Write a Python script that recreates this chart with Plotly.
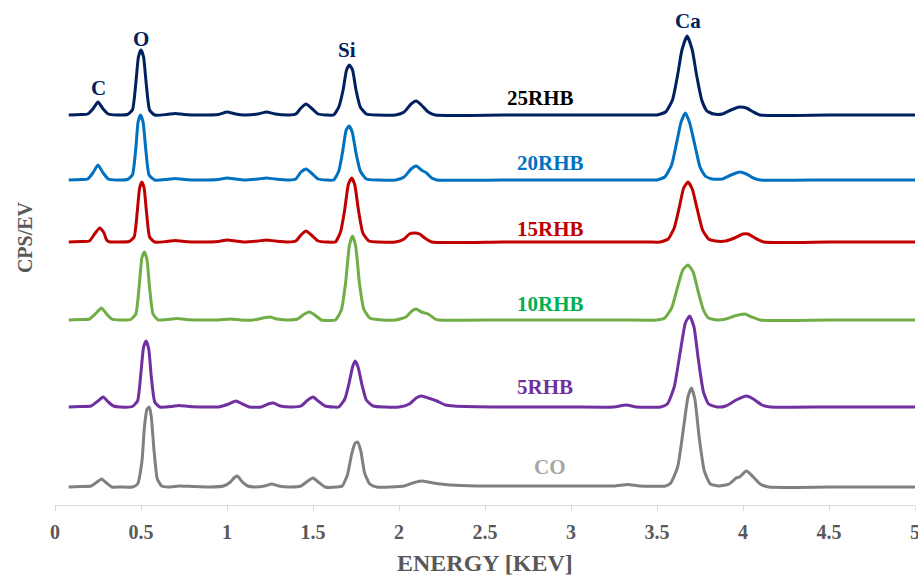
import plotly.graph_objects as go

# ---- data: EDS spectra, (energy keV, intensity above own baseline) ----
names = ["25RHB", "20RHB", "15RHB", "10RHB", "5RHB", "CO"]
offsets = [390, 325, 263, 185, 98, 18]

pts_25 = [(0.08,0),(0.15,0.5),(0.19,1),(0.22,6),(0.25,13),(0.28,6),(0.31,1),(0.36,0),(0.42,0.5),(0.45,5),(0.47,32),(0.485,58),(0.50,65),(0.515,58),(0.53,32),(0.55,5),(0.58,0),(0.65,0.5),(0.70,1.5),(0.75,0.5),(0.85,0),(0.95,0.5),(1.0,3),(1.05,1),(1.1,0),(1.18,1),(1.23,3),(1.28,1),(1.36,0),(1.40,1),(1.43,7),(1.46,11),(1.49,7),(1.53,1),(1.58,0),(1.62,0),(1.65,8),(1.675,25),(1.695,45),(1.712,50),(1.73,45),(1.75,25),(1.775,8),(1.81,1),(1.88,0),(1.98,0),(2.03,3),(2.07,11),(2.10,14),(2.13,10),(2.17,3),(2.21,0),(2.6,0),(3.0,0),(3.45,0),(3.50,0),(3.55,3),(3.59,15),(3.62,40),(3.645,65),(3.675,79),(3.705,65),(3.73,40),(3.76,15),(3.79,4),(3.83,1),(3.88,1),(3.93,5),(3.98,8),(4.02,7),(4.06,3),(4.10,0),(4.5,0),(5.0,0)]

pts_20 = [(0.08,0),(0.15,0.5),(0.19,1),(0.22,7),(0.25,15),(0.28,7),(0.31,1),(0.36,0),(0.42,0.5),(0.45,5),(0.47,32),(0.483,58),(0.497,65),(0.512,58),(0.527,32),(0.547,5),(0.58,0),(0.65,0.5),(0.70,1.5),(0.75,0.5),(0.85,0),(0.95,0.5),(1.0,2),(1.05,1),(1.1,0),(1.18,1),(1.23,2),(1.28,1),(1.36,0),(1.40,1),(1.43,8),(1.46,11),(1.49,7),(1.53,1),(1.58,0),(1.62,0),(1.65,9),(1.672,28),(1.693,50),(1.71,54),(1.728,48),(1.75,27),(1.775,9),(1.81,1),(1.88,0),(1.98,0),(2.03,3),(2.07,11),(2.10,14),(2.13,10),(2.16,7),(2.19,2),(2.22,0),(2.6,0),(3.0,0),(3.45,0),(3.50,0),(3.545,3),(3.585,15),(3.615,38),(3.64,58),(3.665,67),(3.69,57),(3.72,35),(3.75,13),(3.78,4),(3.82,1),(3.88,1),(3.93,5),(3.98,8),(4.02,6),(4.06,2),(4.10,0),(4.5,0),(5.0,0)]

pts_15 = [(0.08,0),(0.15,0.5),(0.20,1),(0.23,8),(0.26,14),(0.285,9),(0.30,2),(0.32,0),(0.36,0),(0.43,0.5),(0.46,5),(0.478,30),(0.492,54),(0.505,60),(0.518,54),(0.532,30),(0.55,5),(0.58,0),(0.65,0.5),(0.70,1.5),(0.75,0.5),(0.85,0),(0.95,0.5),(1.0,2),(1.05,1),(1.1,0),(1.18,1),(1.23,2),(1.28,1),(1.36,0),(1.40,1),(1.43,7),(1.46,11),(1.49,7),(1.53,1),(1.58,0),(1.63,0),(1.66,10),(1.685,33),(1.706,58),(1.725,64),(1.743,57),(1.765,31),(1.79,9),(1.825,1),(1.88,0),(1.98,0),(2.03,3),(2.06,8),(2.09,9),(2.12,8),(2.15,4),(2.19,0),(2.6,0),(3.0,0),(3.45,0),(3.52,0),(3.565,3),(3.60,14),(3.63,35),(3.655,54),(3.68,60),(3.705,53),(3.735,32),(3.765,12),(3.80,3),(3.84,1),(3.90,1),(3.95,4),(4.00,8),(4.03,8),(4.07,4),(4.12,0),(4.5,0),(5.0,0)]

pts_10 = [(0.08,0),(0.15,0.5),(0.20,1),(0.24,7),(0.27,12),(0.30,6),(0.33,1),(0.38,0),(0.44,0.5),(0.47,6),(0.49,35),(0.505,62),(0.52,68),(0.535,60),(0.55,32),(0.57,6),(0.60,0),(0.65,0.5),(0.71,1.5),(0.76,0.5),(0.85,0),(0.95,0),(1.02,1),(1.08,0),(1.15,0),(1.21,2),(1.25,3),(1.29,1),(1.36,0),(1.41,1),(1.45,6),(1.48,8),(1.51,5),(1.55,0),(1.63,0),(1.665,10),(1.69,38),(1.712,75),(1.73,84),(1.748,74),(1.77,37),(1.795,11),(1.83,2),(1.90,0),(1.98,0),(2.04,3),(2.075,9),(2.10,11),(2.13,8),(2.17,6),(2.21,1),(2.23,0),(2.6,0),(3.0,0),(3.3,0),(3.5,0),(3.545,2),(3.585,12),(3.62,33),(3.65,50),(3.68,55),(3.71,48),(3.74,28),(3.77,10),(3.80,2),(3.85,0),(3.90,1),(3.95,4),(4.01,6),(4.05,3),(4.10,0),(4.5,0),(5.0,0)]

pts_5 = [(0.08,0),(0.15,0.5),(0.21,1),(0.25,6),(0.28,10),(0.31,5),(0.34,1),(0.38,0),(0.45,0.5),(0.48,6),(0.50,35),(0.515,60),(0.53,66),(0.545,58),(0.56,30),(0.58,5),(0.61,0),(0.68,0.5),(0.72,1.5),(0.78,0.5),(0.88,0),(0.95,0),(1.01,3),(1.05,6),(1.09,3),(1.13,0),(1.20,0),(1.24,3),(1.27,4),(1.31,1),(1.38,0),(1.43,1),(1.47,7),(1.50,10),(1.53,6),(1.57,1),(1.62,0),(1.65,0),(1.685,8),(1.71,24),(1.73,40),(1.745,46),(1.762,40),(1.785,22),(1.81,7),(1.85,1),(1.92,0),(2.0,0),(2.06,3),(2.10,9),(2.13,11),(2.17,9),(2.22,6),(2.27,2),(2.32,1),(2.6,0),(3.0,0),(3.25,0),(3.32,2),(3.38,0),(3.52,0),(3.56,3),(3.60,20),(3.635,55),(3.665,84),(3.69,91),(3.715,80),(3.74,48),(3.77,15),(3.80,3),(3.85,0),(3.90,1),(3.96,7),(4.02,11),(4.06,8),(4.11,2),(4.16,0),(4.5,0),(5.0,0)]

pts_co = [(0.08,0),(0.15,0.5),(0.21,1),(0.245,5),(0.27,8),(0.30,4),(0.33,0),(0.38,0),(0.45,0),(0.48,3),(0.505,25),(0.52,60),(0.535,78),(0.548,80),(0.56,70),(0.575,38),(0.595,8),(0.62,1),(0.66,0),(0.72,1),(0.80,0.5),(0.90,0),(0.98,1),(1.02,5),(1.04,9),(1.06,11),(1.09,5),(1.12,1),(1.16,0),(1.22,1),(1.26,3),(1.30,1),(1.36,0),(1.43,1),(1.47,6),(1.50,9),(1.53,5),(1.57,0),(1.64,0),(1.67,1),(1.70,12),(1.725,33),(1.745,44),(1.76,45),(1.778,36),(1.80,14),(1.83,3),(1.87,0),(1.95,0),(2.03,1),(2.08,4),(2.13,6),(2.20,4),(2.30,2),(2.45,1),(2.7,1),(3.0,1),(3.25,1),(3.33,2.5),(3.40,1),(3.55,1),(3.58,4),(3.62,20),(3.655,60),(3.68,90),(3.70,99),(3.72,88),(3.745,50),(3.775,16),(3.81,3),(3.86,1),(3.92,3),(3.96,9),(3.98,10),(4.02,16),(4.06,10),(4.10,3),(4.15,0),(4.5,0),(5.0,0)]

series_pts = [pts_25, pts_20, pts_15, pts_10, pts_5, pts_co]

tick_vals = [0, 0.5, 1, 1.5, 2, 2.5, 3, 3.5, 4, 4.5, 5]
tick_text = ["0", "0.5", "1", "1.5", "2", "2.5", "3", "3.5", "4", "4.5", "5"]

peak_labels = ["C", "O", "Si", "Ca"]
peak_label_pos = [(0.25, 417), (0.50, 466), (1.70, 455), (3.68, 484)]
series_label_pos = [(2.82, 407), (2.88, 342), (2.88, 276), (2.88, 201), (2.85, 118), (2.88, 38)]

# ---- styles ----
line_colors = ["#002060", "#0070C0", "#C00000", "#70AD47", "#7030A0", "#808080"]
label_colors = ["#000000", "#0070C0", "#C00000", "#00B050", "#7030A0", "#A6A6A6"]
SERIF = "Liberation Serif, Times New Roman, serif"
GREY = "#595959"

fig = go.Figure()
for name, pts, off, col in zip(names, series_pts, offsets, line_colors):
    xs = [p[0] for p in pts]
    ys = [p[1] + off for p in pts]
    fig.add_trace(go.Scatter(x=xs, y=ys, mode="lines", name=name,
                             line=dict(color=col, width=3, shape="spline", smoothing=0.5),
                             hoverinfo="skip"))

for name, (lx, ly), col in zip(names, series_label_pos, label_colors):
    fig.add_annotation(x=lx, y=ly, text=name, showarrow=False,
                       font=dict(family=SERIF, size=21, color=col, weight="bold"),
                       xanchor="center", yanchor="middle")

for lab, (lx, ly) in zip(peak_labels, peak_label_pos):
    fig.add_annotation(x=lx, y=ly, text=lab, showarrow=False,
                       font=dict(family=SERIF, size=21, color="#002060", weight="bold"),
                       xanchor="center", yanchor="middle")

fig.add_annotation(xref="paper", yref="paper", x=0.5005, y=-0.117, text="ENERGY [KEV]",
                   showarrow=False, font=dict(family=SERIF, size=24, color=GREY, weight="bold"),
                   xanchor="center", yanchor="middle")
fig.add_annotation(xref="paper", yref="paper", x=-0.035, y=0.541, text="CPS/EV",
                   textangle=-90, showarrow=False,
                   font=dict(family=SERIF, size=20, color=GREY, weight="bold"),
                   xanchor="center", yanchor="middle")

fig.update_layout(
    width=918, height=575,
    margin=dict(l=55, r=3, t=10, b=70),
    paper_bgcolor="white", plot_bgcolor="white",
    showlegend=False,
    xaxis=dict(range=[0, 5], tickvals=tick_vals, ticktext=tick_text, automargin=False,
               showgrid=False, zeroline=False, showline=True, linecolor="#D9D9D9", linewidth=1,
               ticks="outside", ticklen=5, tickcolor="#D9D9D9", ticklabelstandoff=4,
               ticklabeloverflow="allow",
               tickfont=dict(family=SERIF, size=20, color=GREY, weight="bold")),
    yaxis=dict(range=[0, 495], visible=False, showgrid=False, zeroline=False, automargin=False),
)

fig.write_html("out.html")
